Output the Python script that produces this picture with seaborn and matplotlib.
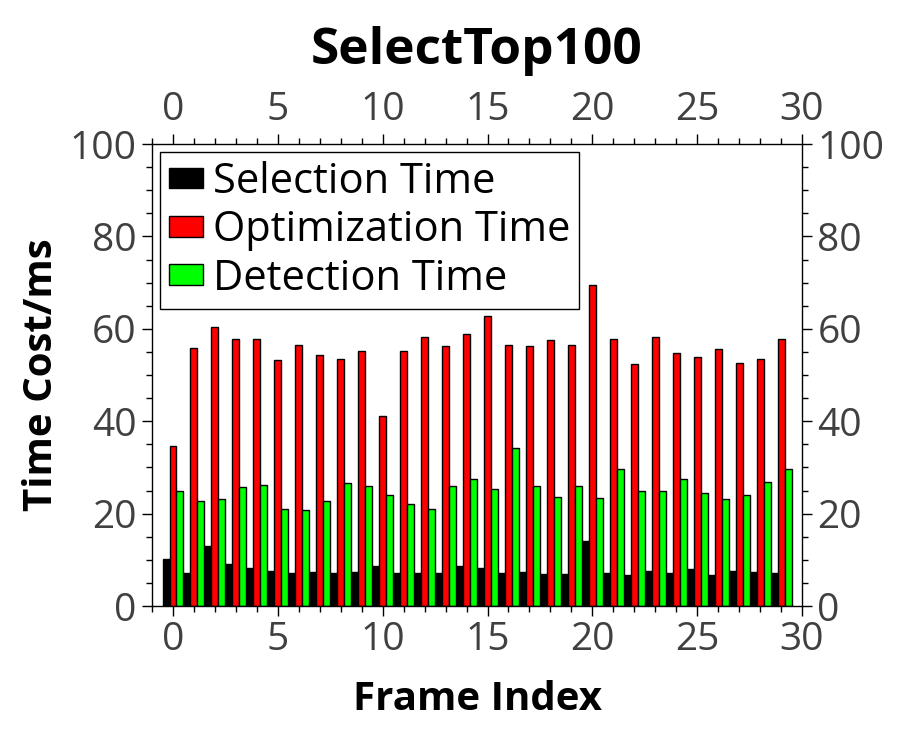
import pandas as pd
import seaborn as sns
import matplotlib.pyplot as plt
from matplotlib.patches import Patch
from matplotlib.ticker import MultipleLocator

# values (ms per frame)
frames = list(range(30))
selection_time = [10.2, 7.1, 13.0, 9.1, 8.2, 7.6, 7.1, 7.4, 7.1, 7.4,
                  8.7, 7.1, 7.1, 7.1, 8.7, 8.2, 7.1, 7.4, 6.9, 6.9,
                  14.1, 7.1, 6.7, 7.6, 7.1, 8.0, 6.7, 7.6, 7.4, 7.1]
optimization_time = [34.6, 55.8, 60.5, 57.9, 57.7, 53.2, 56.4, 54.3, 53.4, 55.3,
                     41.1, 55.1, 58.2, 56.2, 58.8, 62.7, 56.4, 56.2, 57.5, 56.6,
                     69.5, 57.9, 52.3, 58.2, 54.7, 54.0, 55.6, 52.7, 53.4, 57.9]
detection_time = [24.8, 22.7, 23.1, 25.7, 26.1, 20.9, 20.7, 22.7, 26.6, 25.9,
                  24.0, 22.0, 20.9, 25.9, 27.6, 25.3, 34.1, 25.9, 23.7, 25.9,
                  23.3, 29.6, 25.0, 25.0, 27.4, 24.4, 23.1, 24.0, 26.8, 29.6]

series_names = ["Selection Time", "Optimization Time", "Detection Time"]
colors = ["#000000", "#ff0000", "#00ff00"]

df = pd.DataFrame({
    "frame": frames * 3,
    "time": selection_time + optimization_time + detection_time,
    "series": [series_names[0]] * 30 + [series_names[1]] * 30 + [series_names[2]] * 30,
})

sns.set_style("ticks")
plt.rcParams["font.family"] = ["Open Sans", "DejaVu Sans"]
plt.rcParams["text.color"] = "black"
plt.rcParams["axes.labelcolor"] = "black"

fig = plt.figure(figsize=(8.98, 7.49), dpi=100)
ax = fig.add_axes([0.1693, 0.1909, 0.7238, 0.6168])

sns.barplot(data=df, x="frame", y="time", hue="series", hue_order=series_names,
            palette=dict(zip(series_names, colors)), native_scale=True,
            width=1.0, saturation=1, edgecolor="black", linewidth=1,
            legend=False, ax=ax)

ax.set_xlim(-1, 30)
ax.set_ylim(0, 100)
ax.xaxis.set_major_locator(MultipleLocator(5))
ax.xaxis.set_minor_locator(MultipleLocator(1))
ax.yaxis.set_major_locator(MultipleLocator(20))
ax.yaxis.set_minor_locator(MultipleLocator(5))

for s in ax.spines.values():
    s.set_visible(True)
    s.set_color("black")
    s.set_linewidth(1)

ax.tick_params(which="both", direction="out", top=True, right=True,
               labeltop=True, labelright=True, color="black", width=1)
ax.tick_params(which="major", length=7, labelsize=28, labelcolor="#404040", pad=4)
ax.tick_params(which="minor", length=4)

ax.set_xlabel("Frame Index", fontsize=29, fontweight="bold", labelpad=15)
ax.set_ylabel("Time Cost/ms", fontsize=29, fontweight="bold", labelpad=6)
ax.set_title("SelectTop100", fontsize=37, fontweight="bold", pad=19)

# legend
handles = [Patch(facecolor=c, edgecolor="black", linewidth=1) for c in colors]
leg = ax.legend(handles, series_names, loc="upper left",
                bbox_to_anchor=(0.0123, 0.983), borderaxespad=0,
                fontsize=30, frameon=True, fancybox=False,
                handlelength=0.8, handleheight=0.38, handletextpad=0.24,
                labelspacing=0.15, borderpad=0.22)
leg.get_frame().set_edgecolor("black")
leg.get_frame().set_linewidth(1)
leg.get_frame().set_alpha(1)

fig.savefig("out.png", dpi=100)
